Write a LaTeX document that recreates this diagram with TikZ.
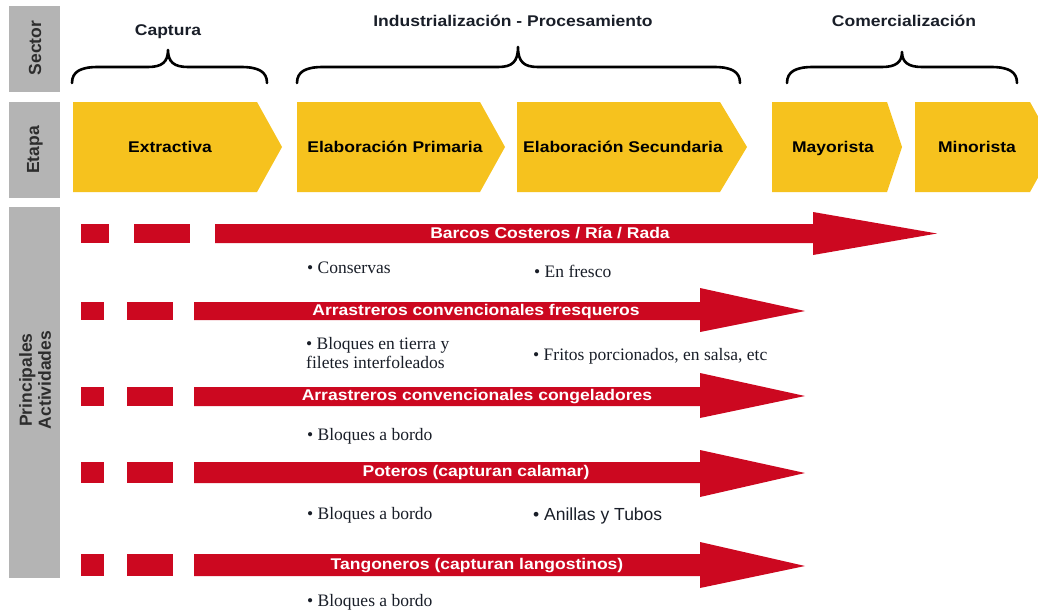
\documentclass[tikz,border=0pt]{standalone}
\usepackage{fontspec}
\setmainfont{Liberation Serif}
\newfontfamily\lsans{Liberation Sans}
\newfontfamily\lsanswide{Liberation Sans}[FakeStretch=1.13]
\definecolor{grayc}{RGB}{180,180,180}
\definecolor{yel}{RGB}{246,194,30}
\definecolor{redc}{RGB}{204,8,32}
\definecolor{dark}{RGB}{25,30,40}
\definecolor{labc}{RGB}{45,45,45}
\tikzset{
  graybox/.style={fill=grayc,draw=none},
  chev/.style={fill=yel,draw=none},
  redfill/.style={fill=redc,draw=none},
  bracestyle/.style={draw=black,line width=2.6pt,line cap=round,line join=round},
  hdr/.style={font=\lsanswide\bfseries\fontsize{15.5}{18}\selectfont,text=dark,inner sep=0pt,text height=11.5pt,text depth=3.5pt},
  stage/.style={font=\lsanswide\bfseries\fontsize{15.5}{18}\selectfont,text=black,inner sep=0pt,text height=11.5pt,text depth=3.5pt},
  sidelbl/.style={font=\lsans\bfseries\fontsize{17.5}{19}\selectfont,text=labc,rotate=90,inner sep=0pt,align=center},
  arrlbl/.style={font=\lsanswide\bfseries\fontsize{15.5}{18}\selectfont,text=white,inner sep=0pt,text height=11.5pt,text depth=3.5pt},
  bul/.style={font=\fontsize{17.5}{19.5}\selectfont,text=dark,anchor=west,inner sep=0pt,align=left},
  bulsans/.style={font=\lsans\fontsize{17.5}{19}\selectfont,text=dark,anchor=west,inner sep=0pt}
}
\newcommand\mybrace[4]{% left, middle, right, peak
  \draw[bracestyle] (#1,83) .. controls (#1,72) and (#1+8,67) .. (#1+26,67)
    -- (#2-20,67) .. controls (#2-6,67) and (#2,62) .. (#2,#4)
    .. controls (#2,62) and (#2+6,67) .. (#2+20,67)
    -- (#3-26,67) .. controls (#3-8,67) and (#3,72) .. (#3,83);}
\newcommand\myarrow[8]{% sx, t, b, hx, ht, hb, tx, ty
  \fill[redfill] (#1,#2) -- (#4,#2) -- (#4,#5) -- (#7,#8) -- (#4,#6) -- (#4,#3) -- (#1,#3) -- cycle;}
\begin{document}
\begin{tikzpicture}[x=1pt,y=-1pt]
\useasboundingbox (0,0) rectangle (1038,613);
\fill[white] (0,0) rectangle (1038,613);
\begin{scope}
\clip (0,0) rectangle (1038,613);
% gray side boxes
\fill[graybox] (9,6) rectangle (60,92);
\fill[graybox] (9,102) rectangle (60,198);
\fill[graybox] (9,207) rectangle (60,578);
\node[sidelbl] (lsector) at (35,48) {Sector};
\node[sidelbl] (letapa) at (35,150) {Etapa};
\node[sidelbl] (lprin) at (35,380) {Principales\\Actividades};
% braces
\mybrace{72}{168}{267}{50}
\mybrace{297}{518}{740}{47}
\mybrace{787}{902}{1017}{52}
\node[hdr] (hcap) at (168,31) {Captura};
\node[hdr] (hind) at (513,22) {Industrialización - Procesamiento};
\node[hdr] (hcom) at (904,22) {Comercialización};
% chevrons
\fill[chev] (73,102) -- (257,102) -- (282,147) -- (257,192) -- (73,192) -- cycle;
\fill[chev] (297,102) -- (480,102) -- (505,147) -- (480,192) -- (297,192) -- cycle;
\fill[chev] (517,102) -- (720,102) -- (747,147) -- (720,192) -- (517,192) -- cycle;
\fill[chev] (772,102) -- (887,102) -- (902,147) -- (887,192) -- (772,192) -- cycle;
\fill[chev] (915,102) -- (1030,102) -- (1055,147) -- (1030,192) -- (915,192) -- cycle;
\node[stage] (sext) at (170,148) {Extractiva};
\node[stage] (sepr) at (395,148) {Elaboración Primaria};
\node[stage] (sesec) at (623,148) {Elaboración Secundaria};
\node[stage] (smay) at (833,148) {Mayorista};
\node[stage] (smin) at (977,148) {Minorista};
% row 1
\fill[redfill] (81,224) rectangle (109,243);
\fill[redfill] (134,224) rectangle (190,243);
\myarrow{215}{224}{243}{813}{212}{255}{937}{233.5}
\node[arrlbl] (a1) at (550,234) {Barcos Costeros / Ría / Rada};
% row 2
\fill[redfill] (81,302) rectangle (104,320);
\fill[redfill] (127,302) rectangle (173,320);
\myarrow{194}{302}{320}{700}{288}{332}{805}{311}
\node[arrlbl] (a2) at (476,311) {Arrastreros convencionales fresqueros};
% row 3
\fill[redfill] (81,387) rectangle (104,406);
\fill[redfill] (127,387) rectangle (173,406);
\myarrow{194}{387}{406}{700}{373}{418}{805}{396}
\node[arrlbl] (a3) at (477,396) {Arrastreros convencionales congeladores};
% row 4
\fill[redfill] (81,462) rectangle (104,483);
\fill[redfill] (127,462) rectangle (173,483);
\myarrow{194}{462}{483}{700}{450}{497}{805}{473}
\node[arrlbl] (a4) at (476,472) {Poteros (capturan calamar)};
% row 5
\fill[redfill] (81,554) rectangle (104,576);
\fill[redfill] (127,554) rectangle (173,576);
\myarrow{194}{554}{576}{700}{542}{588}{805}{566}
\node[arrlbl] (a5) at (477,565) {Tangoneros (capturan langostinos)};
% bullet texts
\node[bul] (b1) at (307,268) {\textbullet\ Conservas};
\node[bul] (b2) at (534,271) {\textbullet\ En fresco};
\node[bul] (b3) at (306,353) {\textbullet\ Bloques en tierra y\\filetes interfoleados};
\node[bul] (b4) at (533,356) {\textbullet\ Fritos porcionados, en salsa, etc};
\node[bul] (b5) at (307,436) {\textbullet\ Bloques a bordo};
\node[bul] (b6) at (307,515) {\textbullet\ Bloques a bordo};
\node[bulsans] (b7) at (533,516) {\textbullet\ Anillas y Tubos};
\node[bul] (b8) at (307,602) {\textbullet\ Bloques a bordo};
\end{scope}
\end{tikzpicture}
\end{document}
